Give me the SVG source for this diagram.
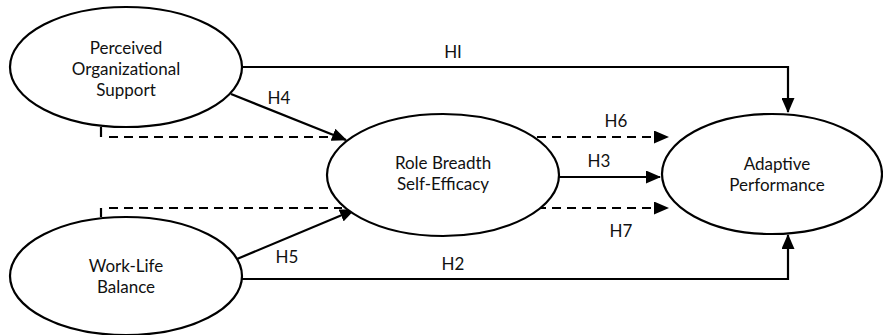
<svg xmlns="http://www.w3.org/2000/svg" width="883" height="335" viewBox="0 0 883 335">
<style>
.node ellipse{fill:#fff;stroke:#000;stroke-width:2.2}
.lbl{font-family:Lato,"Open Sans","DejaVu Sans",sans-serif;font-size:17px;fill:#111;text-anchor:middle}
.c{fill:none;stroke:#000;stroke-width:2.2}
.d{fill:none;stroke:#000;stroke-width:2.2;stroke-dasharray:9 6}
</style>
<defs>
<marker id="ah" markerWidth="15" markerHeight="13" refX="14" refY="6.5" orient="auto" markerUnits="userSpaceOnUse">
<path d="M0,0 L15,6.5 L0,13 Z" fill="#000"/>
</marker>
</defs>
<g id="connectors">
<path class="c" d="M242,67 H788 V112" marker-end="url(#ah)"/>
<path class="c" d="M240,279 H788 V235" marker-end="url(#ah)"/>
<path class="c" d="M231,94 L346,140" marker-end="url(#ah)"/>
<path class="c" d="M237,259 L354,210" marker-end="url(#ah)"/>
<path class="c" d="M559,177 H660" marker-end="url(#ah)"/>
<path class="c" d="M101,127 V137"/>
<path class="d" d="M109,137 H336"/>
<path class="c" d="M101,217 V208"/>
<path class="d" d="M109,208 H342"/>
<path class="d" d="M537,137 H668" marker-end="url(#ah)"/>
<path class="d" d="M537,208 H668" marker-end="url(#ah)"/>
<text class="lbl" x="453" y="58">HI</text>
<text class="lbl" x="453" y="270">H2</text>
<text class="lbl" x="599" y="167">H3</text>
<text class="lbl" x="279" y="104">H4</text>
<text class="lbl" x="287" y="263">H5</text>
<text class="lbl" x="616" y="127">H6</text>
<text class="lbl" x="621" y="237">H7</text>
</g>
<g id="pos" class="node">
<ellipse cx="126" cy="67" rx="116" ry="60"/>
<text class="lbl" x="126" y="54">Perceived</text>
<text class="lbl" x="126" y="75">Organizational</text>
<text class="lbl" x="126" y="96">Support</text>
</g>
<g id="wlb" class="node">
<ellipse cx="126" cy="276" rx="116" ry="59"/>
<text class="lbl" x="126" y="272">Work-Life</text>
<text class="lbl" x="126" y="293">Balance</text>
</g>
<g id="rbse" class="node">
<ellipse cx="443" cy="175" rx="116" ry="61"/>
<text class="lbl" x="443" y="169">Role Breadth</text>
<text class="lbl" x="443" y="190">Self-Efficacy</text>
</g>
<g id="ap" class="node">
<ellipse cx="772" cy="174" rx="110" ry="60"/>
<text class="lbl" x="777" y="170">Adaptive</text>
<text class="lbl" x="777" y="191">Performance</text>
</g>
</svg>
